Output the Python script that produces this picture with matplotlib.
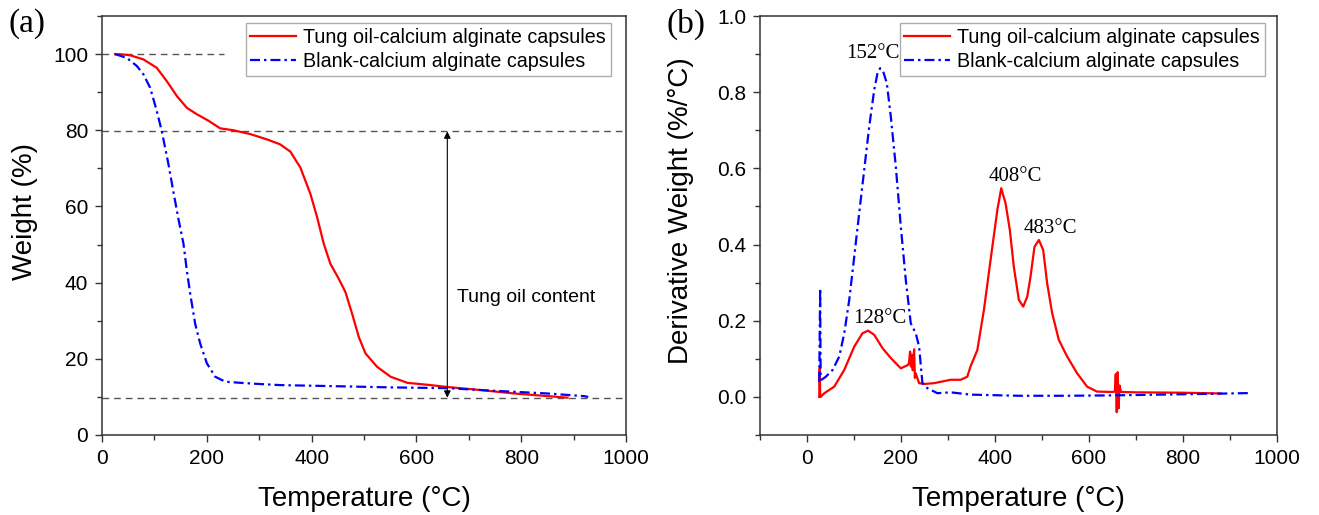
import matplotlib
matplotlib.use("Agg")
import matplotlib.pyplot as plt
from matplotlib.ticker import MultipleLocator

plt.rcParams['font.family'] = ['Liberation Sans', 'DejaVu Sans']

# ---- Panel (a): TGA ----
tga_oil_T = [25, 40, 53.5, 79, 104.5, 123.6, 142.8, 161.9, 181, 203.3, 225.6, 251, 283, 314.9,
             340, 359.5, 378.6, 397.7, 410.5, 423.2, 436, 451.9, 464.6, 477.4, 490.1, 502.9, 525,
             550.7, 582.6, 627, 659, 722.8, 786.5, 888.5]
tga_oil_W = [100, 99.9, 99.7, 98.6, 96.4, 92.9, 89.0, 85.9, 84.2, 82.5, 80.5, 80.0, 79.0, 77.6,
             76.3, 74.4, 70.2, 63.3, 57.2, 50.2, 44.9, 41.0, 37.5, 31.8, 25.7, 21.4, 17.9,
             15.3, 13.7, 13.1, 12.6, 11.8, 10.9, 9.8]

tga_blank_T = [25, 47.2, 66.3, 79, 91.8, 104.5, 114, 126.8, 136.3, 145.9, 155.5, 161.9, 168.3,
               177.8, 187.4, 200.2, 216, 235.2, 263.9, 298.9, 340, 450, 550, 659, 750, 850, 920,
               928]
tga_blank_W = [100, 99.0, 96.9, 94.7, 91.2, 85.1, 79.8, 71.1, 63.8, 56.7, 50.2, 43.2, 37.1,
               29.2, 24.0, 18.8, 15.3, 14.0, 13.7, 13.4, 13.1, 12.8, 12.5, 12.3, 11.6, 10.9,
               10.2, 10.0]

# ---- Panel (b): DTG ----
dtg_oil_T = [26, 27, 28, 29, 36.8, 58, 79.3, 100.5, 118, 130, 143, 160.7, 178.3, 199.6, 215,
             217, 219.4, 221, 223, 225, 227.9, 229.5, 231.4, 238.5, 250, 270, 305.7, 327, 341,
             348, 362.4, 376.4, 390.6, 404.9, 413.3, 422.5, 431.6, 440, 450.7, 460, 468.6,
             475.6, 484, 493.3, 502.5, 511, 521.6, 535.7, 553.5, 574.7, 596, 617, 650, 655, 657,
             659, 661, 663, 665, 668, 700, 800, 880]
dtg_oil_D = [0.0, 0.075, 0.01, 0.0, 0.0097, 0.027, 0.071, 0.132, 0.167, 0.174, 0.163, 0.128,
             0.102, 0.075, 0.084, 0.09, 0.119, 0.08, 0.11, 0.07, 0.125, 0.05, 0.062, 0.036,
             0.034, 0.036, 0.045, 0.045, 0.053, 0.08, 0.123, 0.228, 0.36, 0.49, 0.548, 0.508,
             0.438, 0.342, 0.255, 0.237, 0.263, 0.316, 0.394, 0.412, 0.386, 0.298, 0.22, 0.15,
             0.106, 0.062, 0.027, 0.014, 0.013, 0.014, 0.06, -0.04, 0.065, -0.03, 0.03, 0.013,
             0.012, 0.011, 0.009]

dtg_blank_T = [26, 28, 29, 31, 40, 54.6, 68.6, 79.3, 89.9, 100.5, 111, 121.7, 132.3, 143, 150,
               155.7, 162, 169.9, 178.3, 189, 199.6, 210.2, 220.8, 231.4, 238.5, 245.6, 256,
               277.5, 305.7, 348, 450, 550, 650, 750, 850, 940]
dtg_blank_D = [0.04, 0.285, 0.06, 0.045, 0.053, 0.071, 0.106, 0.167, 0.255, 0.368, 0.482,
               0.596, 0.709, 0.806, 0.85, 0.863, 0.855, 0.823, 0.736, 0.604, 0.447, 0.307,
               0.193, 0.167, 0.132, 0.036, 0.023, 0.0097, 0.012, 0.006, 0.003, 0.003, 0.004,
               0.006, 0.008, 0.01]

peak_labels = ['152°C', '128°C', '408°C', '483°C']
peak_pos = [(139.5, 0.902), (155.7, 0.207), (443.7, 0.578), (518, 0.443)]

legend_labels = ['Tung oil-calcium alginate capsules', 'Blank-calcium alginate capsules']
xticks_a = [0, 200, 400, 600, 800, 1000]
yticks_a = [0, 20, 40, 60, 80, 100]
xticks_b = [0, 200, 400, 600, 800, 1000]
yticks_b = [0.0, 0.2, 0.4, 0.6, 0.8, 1.0]

RED = '#ff0000'
BLUE = '#0000ff'
BLUE_DASH = (4.5, 1.8, 1.1, 1.8)
W, H = 1319, 515
fig = plt.figure(figsize=(W / 100, H / 100), dpi=100)

TOP, BOT = 16, 435
axa = fig.add_axes([102 / W, 1 - BOT / H, (626 - 102) / W, (BOT - TOP) / H])
axb = fig.add_axes([760 / W, 1 - BOT / H, (1277 - 760) / W, (BOT - TOP) / H])

dash_kw = dict(color='#555555', lw=1.0, dashes=(4.8, 3.6))

axa.plot([0, 232], [100, 100], **dash_kw)
axa.axhline(79.7, **dash_kw)
axa.axhline(9.8, **dash_kw)
axa.plot(tga_oil_T, tga_oil_W, color=RED, lw=1.6, label=legend_labels[0])
axa.plot(tga_blank_T, tga_blank_W, color=BLUE, lw=1.6, dashes=BLUE_DASH,
         label=legend_labels[1])
axa.annotate('', xy=(659, 79.7), xytext=(659, 9.8),
             arrowprops=dict(arrowstyle='<|-|>', color='black', lw=0.8,
                             mutation_scale=10, shrinkA=0, shrinkB=0))
axa.text(678, 36.2, 'Tung oil content', fontsize=14, va='center', ha='left')
axa.set_xlim(0, 1000)
axa.set_ylim(0, 110)
axa.xaxis.set_minor_locator(MultipleLocator(100))
axa.yaxis.set_minor_locator(MultipleLocator(10))
axa.set_xticks(xticks_a)
axa.set_yticks(yticks_a)
axa.set_xlabel('Temperature (°C)', fontsize=20)
axa.set_ylabel('Weight (%)', fontsize=20)

axb.plot(dtg_oil_T, dtg_oil_D, color=RED, lw=1.6, label=legend_labels[0])
axb.plot(dtg_blank_T, dtg_blank_D, color=BLUE, lw=1.6, dashes=BLUE_DASH,
         label=legend_labels[1])
for lab, (px, py) in zip(peak_labels, peak_pos):
    axb.text(px, py, lab, fontsize=15, ha='center', va='center',
             family=['Liberation Serif', 'DejaVu Serif'])
axb.set_xlim(-100, 1000)
axb.set_ylim(-0.1, 1.0)
axb.xaxis.set_minor_locator(MultipleLocator(100))
axb.yaxis.set_minor_locator(MultipleLocator(0.1))
axb.set_xticks(xticks_b)
axb.set_yticks(yticks_b)
axb.set_xlabel('Temperature (°C)', fontsize=20)
axb.set_ylabel('Derivative Weight (%/°C)', fontsize=20)

ylab_x = {axa: (25 - 102) / 524, axb: (681 - 760) / 517}
leg_anchor = {axa: ((611 - 102) / 524, (BOT - 23) / (BOT - TOP)),
              axb: ((1265 - 760) / 517, (BOT - 23) / (BOT - TOP))}

for ax in (axa, axb):
    for s in ax.spines.values():
        s.set_linewidth(1.1)
        s.set_color('#333333')
    ax.tick_params(which='major', direction='out', length=5, width=1.0, labelsize=15,
                   color='#333333', pad=5)
    ax.tick_params(which='minor', direction='out', length=3.5, width=1.0, color='#333333')
    ax.xaxis.set_label_coords(0.5, (BOT - 499) / (BOT - TOP))
    ax.xaxis.label.set_verticalalignment('center')
    ax.yaxis.set_label_coords(ylab_x[ax], (BOT - 211) / (BOT - TOP))
    ax.yaxis.label.set_verticalalignment('center')
    leg = ax.legend(loc='upper right', bbox_to_anchor=leg_anchor[ax], borderaxespad=0,
                    fontsize=14.2, frameon=True, fancybox=False, edgecolor='#999999',
                    handlelength=2.33, borderpad=0.25, labelspacing=0.25,
                    handletextpad=0.35)
    leg.get_frame().set_linewidth(1.0)

fig.text(8 / W, 1 - 24 / H, '(a)', fontsize=24, va='center', ha='left',
         family=['Liberation Serif', 'DejaVu Serif'])
fig.text(666 / W, 1 - 24 / H, '(b)', fontsize=24, va='center', ha='left',
         family=['Liberation Serif', 'DejaVu Serif'])

fig.savefig('out.png', dpi=100)
